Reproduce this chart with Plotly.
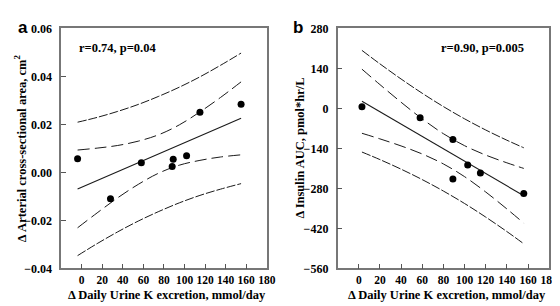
import plotly.graph_objects as go

# ---- Panel a data ----
a_x = [-4, 28, 58, 88, 89, 102, 115, 155]
a_y = [0.0057, -0.011, 0.004, 0.0024, 0.0055, 0.0069, 0.025, 0.0284]
a_band_x = [-4, 15, 35, 55, 75, 95, 115, 135, 155]
a_fit_x = [-4, 155]
a_fit_y = [-0.0069, 0.0225]
a_ci_upper = [0.0093, 0.0101, 0.0112, 0.0130, 0.0157, 0.0198, 0.0252, 0.0312, 0.0377]
a_ci_lower = [-0.0231, -0.0169, -0.0106, -0.0050, -0.0003, 0.0030, 0.0050, 0.0064, 0.0073]
a_pi_upper = [0.0209, 0.0229, 0.0254, 0.0283, 0.0317, 0.0355, 0.0398, 0.0446, 0.0497]
a_pi_lower = [-0.0347, -0.0297, -0.0248, -0.0203, -0.0163, -0.0127, -0.0096, -0.0070, -0.0047]

# ---- Panel b data ----
b_x = [3, 58, 89, 89, 103, 115, 156]
b_y = [6, -33, -109, -247, -198, -226, -298]
b_band_x = [3, 20, 40, 60, 80, 100, 120, 140, 156]
b_fit_x = [3, 156]
b_fit_y = [25, -306]
b_ci_upper = [137.2, 83.2, 21.5, -36.9, -88.7, -130.6, -163.5, -190.6, -210.2]
b_ci_lower = [-87.2, -106.8, -131.5, -159.7, -194.5, -239.0, -292.7, -352.0, -401.8]
b_pi_upper = [202.9, 155.7, 102.8, 52.8, 6.2, -36.6, -75.7, -111.4, -138.0]
b_pi_lower = [-152.9, -179.3, -212.8, -249.4, -289.4, -333.0, -380.5, -431.2, -474.0]

x_ticks = [0, 20, 40, 60, 80, 100, 120, 140, 160, 180]
a_yticks = [-0.04, -0.02, 0.00, 0.02, 0.04, 0.06]
b_yticks = [-560, -420, -280, -140, 0, 140, 280]

SERIF = "Liberation Serif, Times New Roman, serif"
LINE = "#1a1a1a"
CI_DASH = "12px,5px"
PI_DASH = "9px,2px"

fig = go.Figure()

def add_panel(xa, ya, px, py, bx, fx, fy, ciu, cil, piu, pil):
    for ys, dash in [(piu, PI_DASH), (ciu, CI_DASH), (cil, CI_DASH), (pil, PI_DASH)]:
        fig.add_trace(go.Scatter(x=bx, y=ys, mode="lines", xaxis=xa, yaxis=ya,
                                 line=dict(color=LINE, width=1, dash=dash, shape="spline"),
                                 showlegend=False, hoverinfo="skip"))
    fig.add_trace(go.Scatter(x=fx, y=fy, mode="lines", xaxis=xa, yaxis=ya,
                             line=dict(color=LINE, width=1.1), showlegend=False))
    fig.add_trace(go.Scatter(x=px, y=py, mode="markers", xaxis=xa, yaxis=ya,
                             marker=dict(color="black", size=7), showlegend=False))

add_panel("x", "y", a_x, a_y, a_band_x, a_fit_x, a_fit_y, a_ci_upper, a_ci_lower, a_pi_upper, a_pi_lower)
add_panel("x2", "y2", b_x, b_y, b_band_x, b_fit_x, b_fit_y, b_ci_upper, b_ci_lower, b_pi_upper, b_pi_lower)

xtickfont = dict(family=SERIF, size=11.5, color="black", weight="bold")
ytickfont = dict(family=SERIF, size=12, color="black", weight="bold")
axis_common = dict(showline=True, mirror=True, linecolor="#777777", linewidth=1.5,
                   ticks="inside", ticklen=5, tickcolor="#555555", tickwidth=1,
                   showgrid=False, zeroline=False)

y_dom = [1 - 265.5 / 306, 1 - 14 / 306]
fig.update_layout(
    width=560, height=306,
    margin=dict(l=0, r=0, t=0, b=0),
    paper_bgcolor="white", plot_bgcolor="white",
    xaxis=dict(domain=[54 / 560, 263 / 560], range=[-20, 180], tickvals=x_ticks,
               tickfont=xtickfont, **axis_common),
    yaxis=dict(domain=y_dom, range=[-0.04, 0.06], tickvals=a_yticks, tickformat=".2f",
               ticklabelstandoff=5, tickfont=ytickfont, **axis_common),
    xaxis2=dict(domain=[335 / 560, 550 / 560], range=[-20, 180], tickvals=x_ticks, anchor="y2",
                tickfont=xtickfont, **axis_common),
    yaxis2=dict(domain=y_dom, range=[-560, 280], tickvals=b_yticks, anchor="x2",
                ticklabelstandoff=5, tickfont=ytickfont, **axis_common),
)

tfont = dict(family=SERIF, size=12.5, color="black", weight="bold")
ann = [
    dict(text="a", x=8 / 560, y=1 - 1 / 306, xanchor="left", yanchor="top",
         font=dict(family="Liberation Sans, Arial", size=17, color="black", weight="bold")),
    dict(text="b", x=288 / 560, y=1 - 1 / 306, xanchor="left", yanchor="top",
         font=dict(family="Liberation Sans, Arial", size=17, color="black", weight="bold")),
    dict(text="Δ Arterial cross-sectional area, cm<sup>2</sup>", x=13 / 560, y=(y_dom[0] + y_dom[1]) / 2,
         textangle=-90, xanchor="center", yanchor="middle", font=tfont),
    dict(text="Δ Insulin AUC, pmol*hr/L", x=297 / 560, y=(y_dom[0] + y_dom[1]) / 2,
         textangle=-90, xanchor="center", yanchor="middle", font=tfont),
    dict(text="Δ Daily Urine K excretion, mmol/day", x=(54 + 263) / 2 / 560 + 0.006, y=1 - 293 / 306,
         xanchor="center", yanchor="middle", font=tfont),
    dict(text="Δ Daily Urine K excretion, mmol/day", x=(335 + 550) / 2 / 560 + 0.006, y=1 - 293 / 306,
         xanchor="center", yanchor="middle", font=tfont),
    dict(text="r=0.74, p=0.04", x=70 / 560, y=1 - 35 / 306, xanchor="left", yanchor="middle",
         font=dict(family=SERIF, size=12.5, color="black", weight="bold")),
    dict(text="r=0.90, p=0.005", x=526 / 560, y=1 - 35 / 306, xanchor="right", yanchor="middle",
         font=dict(family=SERIF, size=12.5, color="black", weight="bold")),
]
for a in ann:
    a.update(xref="paper", yref="paper", showarrow=False)
fig.update_layout(annotations=ann)

fig.write_html("out.html")
